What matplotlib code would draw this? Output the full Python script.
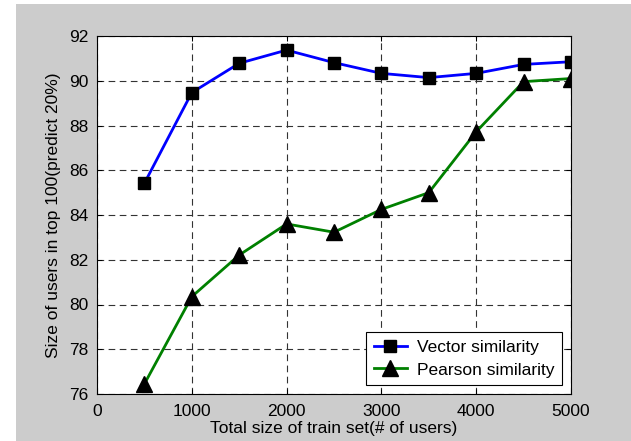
import matplotlib.pyplot as plt
import numpy as np

# train set sizes and the two similarity measures
train_size = [500, 1000, 1500, 2000, 2500, 3000, 3500, 4000, 4500, 5000]
vector_sim = [85.42, 89.47, 90.78, 91.37, 90.81, 90.33, 90.14, 90.33, 90.73, 90.85]
pearson_sim = [76.45, 80.35, 82.21, 83.60, 83.23, 84.25, 85.00, 87.72, 89.96, 90.10]

x_ticks = [0, 1000, 2000, 3000, 4000, 5000]
y_ticks = [76, 78, 80, 82, 84, 86, 88, 90, 92]

plt.rcParams['font.family'] = ['Liberation Sans', 'DejaVu Sans']

fig = plt.figure(figsize=(6.31, 4.41), dpi=100, facecolor='white')

# grey panel behind the plot (page scan look)
bg = plt.Rectangle((16 / 631, 0), 615 / 631, 437 / 441, transform=fig.transFigure,
                   facecolor='#cccccc', edgecolor='none', zorder=-1)
fig.add_artist(bg)

# caption of the page, mostly cut off at the top edge
fig.text(94 / 631, 1 + 4 / 441, 'Accuracy of the training set as the size changes',
         family='Liberation Serif', fontsize=14, va='baseline', ha='left')

ax = fig.add_axes([97 / 631, 47 / 441, 474 / 631, 358 / 441])
ax.set_facecolor('white')

ax.plot(train_size, vector_sim, color='#0000ff', lw=2.0, marker='s', ms=8.6,
        mfc='black', mec='black', label='Vector similarity', zorder=3)
ax.plot(train_size, pearson_sim, color='#008000', lw=2.0, marker='^', ms=11,
        mfc='black', mec='black', label='Pearson similarity', zorder=3)

ax.set_xlim(0, 5000)
ax.set_ylim(76, 92)
ax.set_xticks(x_ticks)
ax.set_yticks(y_ticks)
ax.tick_params(direction='in', length=3.6, width=0.75, top=True, right=True,
               labelsize=12.5, pad=6)
ax.tick_params(axis='x', pad=7)
ax.grid(True, color='#333333', linestyle=(0, (6, 4)), linewidth=0.8)
for s in ax.spines.values():
    s.set_linewidth(0.8)

ax.set_xlabel('Total size of train set(# of users)', fontsize=12.5, labelpad=2)
ax.set_ylabel('Size of users in top 100(predict 20%)', fontsize=12.5, labelpad=6)

leg = ax.legend(loc='lower right', fontsize=12.5, fancybox=False, framealpha=1,
                edgecolor='black', borderaxespad=0.5, handlelength=1.9,
                borderpad=0.45, labelspacing=0.4, handletextpad=0.6)
leg.get_frame().set_linewidth(0.8)

fig.savefig('out.png', dpi=100)
